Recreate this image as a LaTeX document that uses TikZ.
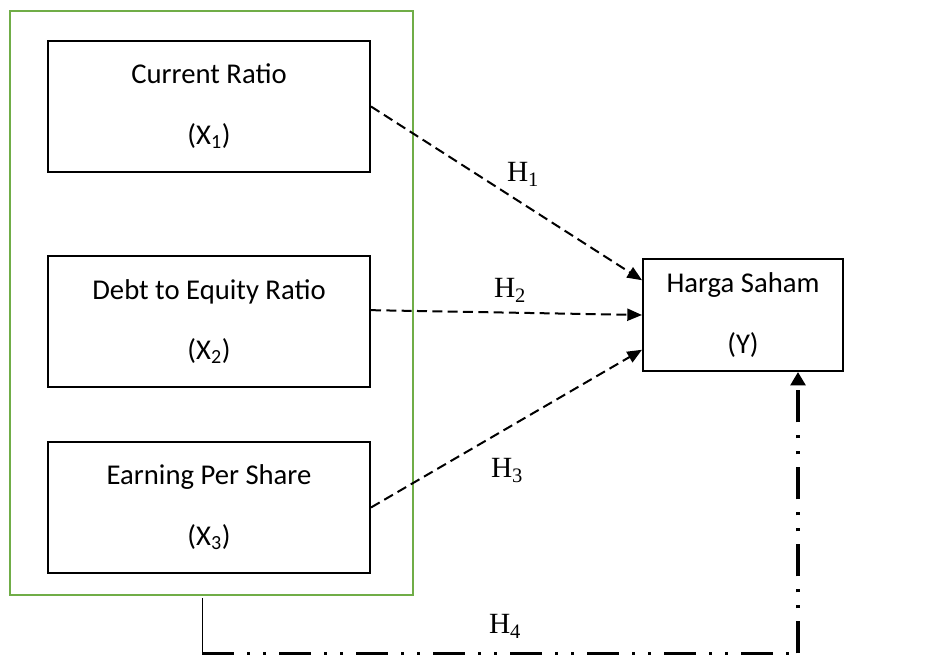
\documentclass[tikz,border=0pt]{standalone}
\usepackage{fontspec}
\setmainfont{Carlito}
\newfontfamily\timesf{Liberation Serif}
\usetikzlibrary{arrows.meta}

\begin{document}
\begin{tikzpicture}[x=0.75pt, y=-0.75pt, line width=1.5pt,
	varbox/.style  = {draw=black, line width=1.5pt, inner sep=0pt,
		minimum width=241.5pt, minimum height=98.25pt, align=center,
		font=\fontsize{21.5}{26}\selectfont},
	ybox/.style    = {varbox, minimum width=150pt, minimum height=84pt},
	grpbox/.style  = {draw=grpgreen, line width=1.5pt, inner sep=0pt,
		minimum width=302.25pt, minimum height=438pt},
	hlab/.style    = {anchor=base west, inner sep=0pt,
		font=\timesf\fontsize{22}{26}\selectfont},
	ipo/.style     = {line width=1.5pt, dash pattern=on 7.5pt off 4pt,
		-{Triangle[length=11pt, width=9pt]}},
	ipoall/.style  = {line width=2.6pt,
		dash pattern=on 24pt off 9.75pt on 2.25pt off 9.75pt on 2.25pt off 9.75pt},
	]
	\definecolor{grpgreen}{RGB}{112,173,71}
	
	%% ── Area di disegno ──────────────────────────────────────────────────────
	\useasboundingbox (0,0) rectangle (933,655);
	
	%% ── Variabili indipendenti ───────────────────────────────────────────────
	\node[grpbox] (grp) at (211.5,303) {};
	\node[varbox] (cr)  at (209,106.5) {Current Ratio\\[19.5pt](X\textsubscript{1})};
	\node[varbox] (der) at (209,321.5) {Debt to Equity Ratio\\[19.5pt](X\textsubscript{2})};
	\node[varbox] (eps) at (209,507.5) {Earning Per Share\\[19.5pt](X\textsubscript{3})};
	
	%% ── Variabile dipendente ─────────────────────────────────────────────────
	\node[ybox] (hs) at (743,315) {Harga Saham\\[19.5pt](Y)};
	
	%% ── Ipotesi parziali ─────────────────────────────────────────────────────
	\draw[ipo] (cr.east) -- (hs.161);
	\draw[ipo] (der.4)   -- (hs.west);
	\draw[ipo] (eps.east) -- (hs.199);
	
	\node[hlab] (h1) at (506,182) {H\textsubscript{1}};
	\node[hlab] (h2) at (493,298) {H\textsubscript{2}};
	\node[hlab] (h3) at (490,478) {H\textsubscript{3}};
	
	%% ── Ipotesi simultanea ───────────────────────────────────────────────────
	\coordinate (s0) at (202,598);
	\coordinate (s1) at (202,653.5);
	\coordinate (s2) at (798,653.5);
	\draw[line width=0.6pt] (s0) -- (s1 |- 0,660);
	\draw[ipoall] (s1) -- (s2);
	\draw[ipoall, -{Triangle[length=10pt, width=11pt]}] (s2) -- (s2 |- hs.south);
	
	\node[hlab] (h4) at (488,634) {H\textsubscript{4}};
	
\end{tikzpicture}
\end{document}
